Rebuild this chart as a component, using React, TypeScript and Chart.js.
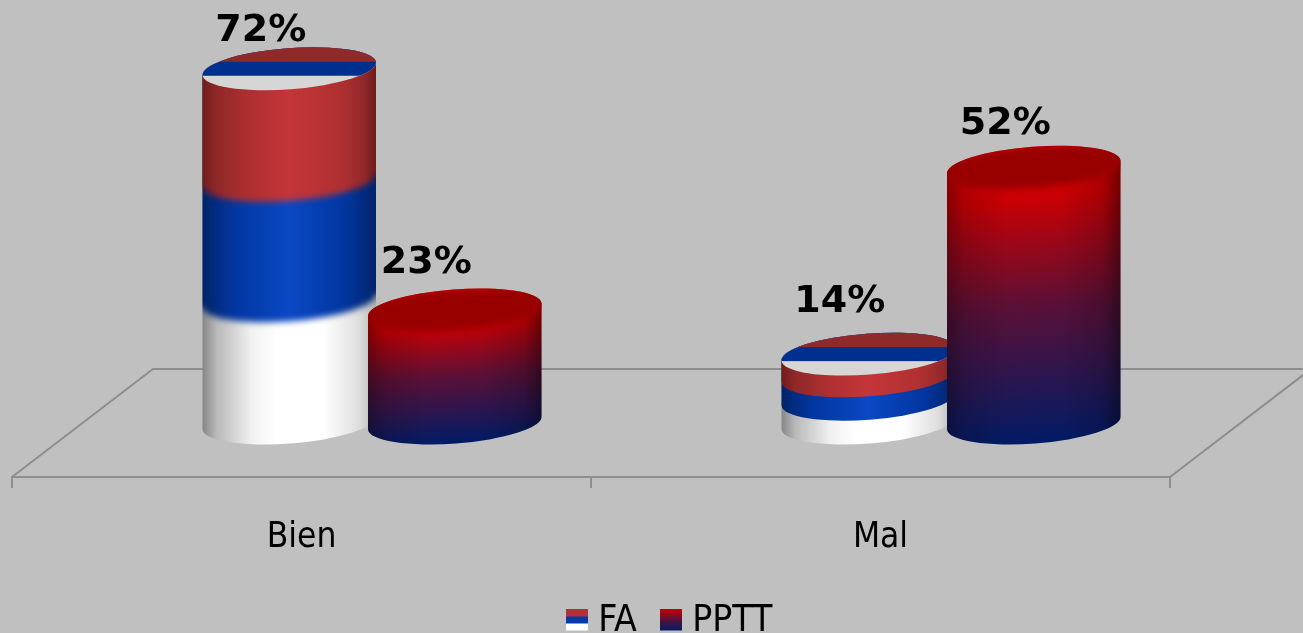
import React, { useEffect, useRef } from "react";
import { Chart, registerables } from "chart.js";

Chart.register(...registerables);

const categories = ["Bien", "Mal"];
const faValues = [72, 14];
const ppttValues = [23, 52];
const seriesNames = ["FA", "PPTT"];

const BG = "#c0c0c0";
const LINE = "#8e8e8e";
const TEXT_FONT = '"DejaVu Sans Condensed", "Noto Sans", sans-serif';
const DEPTH_X = 141;
const DEPTH_Y = 108;
const TILT = (-4.3 * Math.PI) / 180;
const MINOR = 20.5;
const LABEL_LIFT = [[38, 52], [47, 43]];
const LEGEND_SHIFT = 82;

function hGrad(ctx: CanvasRenderingContext2D, l: number, r: number, stops: [number, string][]) {
  const g = ctx.createLinearGradient(l, 0, r, 0);
  stops.forEach(([o, c]) => g.addColorStop(o, c));
  return g;
}

const RED_STOPS: [number, string][] = [[0, "#701c1c"], [0.08, "#8f2828"], [0.25, "#ad2f30"], [0.5, "#c43539"], [0.8, "#b03031"], [0.93, "#93282a"], [1, "#6a1a1a"]];
const BLUE_STOPS: [number, string][] = [[0, "#012468"], [0.18, "#0236a0"], [0.5, "#0a48c4"], [0.82, "#0236a0"], [1, "#012468"]];
const WHITE_STOPS: [number, string][] = [[0, "#858585"], [0.08, "#b8b8b8"], [0.28, "#f0f0f0"], [0.42, "#ffffff"], [0.7, "#ffffff"], [0.9, "#dedede"], [1, "#b4b4b4"]];

function cylinderPath(ctx: CanvasRenderingContext2D, cx: number, top: number, base: number, a: number) {
  const dx = a * Math.cos(TILT);
  const dy = a * Math.sin(TILT);
  ctx.beginPath();
  ctx.ellipse(cx, top, a, MINOR, TILT, Math.PI, 2 * Math.PI);
  ctx.lineTo(cx + dx, base + dy);
  ctx.ellipse(cx, base, a, MINOR, TILT, 0, Math.PI);
  ctx.closePath();
}

function bandPath(ctx: CanvasRenderingContext2D, cx: number, top: number, y: number, a: number) {
  const dx = a * Math.cos(TILT);
  const dy = a * Math.sin(TILT);
  ctx.beginPath();
  ctx.moveTo(cx - dx - 14, top - 40);
  ctx.lineTo(cx + dx + 14, top - 40);
  ctx.lineTo(cx + dx + 14, y + dy);
  ctx.lineTo(cx + dx, y + dy);
  ctx.ellipse(cx, y, a, MINOR, TILT, 0, Math.PI);
  ctx.lineTo(cx - dx - 14, y - dy);
  ctx.closePath();
}

function drawFA(ctx: CanvasRenderingContext2D, cx: number, top: number, base: number, a: number) {
  const l = cx - a;
  const r = cx + a;
  const h = base - top;
  const blur = Math.max(0.6, h * 0.009);
  ctx.save();
  cylinderPath(ctx, cx, top, base, a);
  ctx.clip();
  ctx.fillStyle = hGrad(ctx, l, r, WHITE_STOPS);
  ctx.fillRect(l - 2, top - 40, 2 * a + 4, h + 80);
  ctx.filter = `blur(${blur}px)`;
  bandPath(ctx, cx, top, top + h * 0.655, a);
  ctx.fillStyle = hGrad(ctx, l, r, BLUE_STOPS);
  ctx.fill();
  bandPath(ctx, cx, top, top + h * 0.315, a);
  ctx.fillStyle = hGrad(ctx, l, r, RED_STOPS);
  ctx.fill();
  ctx.restore();
  ctx.save();
  ctx.beginPath();
  ctx.ellipse(cx, top, a, MINOR, TILT, 0, 2 * Math.PI);
  ctx.clip();
  ctx.fillStyle = "#d6d6d6";
  ctx.fillRect(l - 2, top - 30, 2 * a + 4, 60);
  ctx.fillStyle = "#00308f";
  ctx.fillRect(l - 2, top - 30, 2 * a + 4, 37);
  ctx.fillStyle = "#8f2a2a";
  ctx.fillRect(l - 2, top - 30, 2 * a + 4, 23);
  ctx.restore();
}

function drawPPTT(ctx: CanvasRenderingContext2D, cx: number, top: number, base: number, a: number) {
  const l = cx - a;
  const r = cx + a;
  const y1 = base + MINOR;
  const skew = (y1 - top) * Math.sin(-TILT);
  const g = ctx.createLinearGradient(cx - skew * 0.5, top, cx + skew * 0.5, y1);
  g.addColorStop(0, "#d40000");
  g.addColorStop(0.12, "#c80004");
  g.addColorStop(0.5, "#5a1036");
  g.addColorStop(1, "#001b66");
  ctx.save();
  cylinderPath(ctx, cx, top, base, a);
  ctx.clip();
  ctx.fillStyle = g;
  ctx.fillRect(l - 2, top - 40, 2 * a + 4, y1 - top + 80);
  ctx.fillStyle = hGrad(ctx, l, r, [[0, "rgba(0,0,0,0.35)"], [0.1, "rgba(0,0,0,0.14)"], [0.35, "rgba(0,0,0,0)"], [0.65, "rgba(0,0,0,0)"], [0.9, "rgba(0,0,0,0.16)"], [1, "rgba(0,0,0,0.45)"]]);
  ctx.fillRect(l - 2, top - 40, 2 * a + 4, y1 - top + 80);
  ctx.filter = "blur(3px)";
  ctx.fillStyle = "#980000";
  ctx.beginPath();
  ctx.ellipse(cx, top, a + 4, MINOR, TILT, 0, 2 * Math.PI);
  ctx.fill();
  ctx.restore();
}

const cylinderPlugin = {
  id: "cylinders",
  afterLayout(chart: any) {
    chart.legend.left += LEGEND_SHIFT;
    chart.legend.right += LEGEND_SHIFT;
  },
  beforeDatasetsDraw(chart: any) {
    const { ctx } = chart;
    const xs = chart.scales.x;
    const y0 = chart.scales.y.getPixelForValue(0);
    const l = xs.left;
    const r = xs.right;
    ctx.save();
    ctx.strokeStyle = LINE;
    ctx.lineWidth = 2;
    ctx.beginPath();
    ctx.moveTo(l, y0);
    ctx.lineTo(l + DEPTH_X, y0 - DEPTH_Y);
    ctx.lineTo(r + DEPTH_X, y0 - DEPTH_Y);
    ctx.lineTo(r, y0);
    ctx.stroke();
    ctx.restore();
  },
  afterDatasetsDraw(chart: any) {
    const { ctx } = chart;
    const y0 = chart.scales.y.getPixelForValue(0);
    chart.data.datasets.forEach((ds: any, i: number) => {
      chart.getDatasetMeta(i).data.forEach((el: any) => {
        const cx = el.x + DEPTH_X / 2;
        const top = el.y - DEPTH_Y / 2;
        const base = y0 - DEPTH_Y / 2;
        const a = el.width / 2;
        if (i === 0) drawFA(ctx, cx, top, base, a);
        else drawPPTT(ctx, cx, top, base, a);
      });
    });
    ctx.save();
    ctx.fillStyle = "#000";
    ctx.font = 'bold 38px "DejaVu Sans", sans-serif';
    ctx.textAlign = "center";
    ctx.textBaseline = "middle";
    chart.data.datasets.forEach((ds: any, i: number) => {
      chart.getDatasetMeta(i).data.forEach((el: any, j: number) => {
        const v = ds.data[j];
        ctx.fillText(`${v}%`, el.x + DEPTH_X / 2 - 28.5, el.y - DEPTH_Y / 2 - LABEL_LIFT[i][j]);
      });
    });
    ctx.restore();
  },
};

function legendIcon(kind: number) {
  const c = document.createElement("canvas");
  c.width = 22;
  c.height = 26;
  const x = c.getContext("2d")!;
  if (kind === 0) {
    x.fillStyle = "#b03236";
    x.fillRect(0, 0, 22, 8);
    x.fillStyle = "#0a38a8";
    x.fillRect(0, 8, 22, 7);
    x.fillStyle = "#ffffff";
    x.fillRect(0, 15, 22, 7);
  } else {
    const g = x.createLinearGradient(0, 0, 0, 22);
    g.addColorStop(0, "#c80000");
    g.addColorStop(0.5, "#5a1036");
    g.addColorStop(1, "#001b66");
    x.fillStyle = g;
    x.fillRect(0, 0, 22, 22);
  }
  return c;
}

export default function App() {
  const ref = useRef<HTMLCanvasElement>(null);
  useEffect(() => {
    if (!ref.current) return;
    const chart = new Chart(ref.current, {
      type: "bar",
      data: {
        labels: categories,
        datasets: [
          { label: seriesNames[0], data: faValues, backgroundColor: "rgba(0,0,0,0)", categoryPercentage: 0.5717, barPercentage: 1.051 },
          { label: seriesNames[1], data: ppttValues, backgroundColor: "rgba(0,0,0,0)", categoryPercentage: 0.5717, barPercentage: 1.051 },
        ],
      },
      options: {
        responsive: false,
        animation: false,
        layout: { padding: { left: 12, right: 133, top: 83.4, bottom: 0 } },
        plugins: {
          tooltip: { enabled: false },
          legend: {
            position: "bottom",
            labels: {
              boxWidth: 6,
              usePointStyle: true,
              padding: 31,
              color: "#000",
              font: { size: 37, family: TEXT_FONT },
              generateLabels: () =>
                seriesNames.map((n, i) => ({ text: n, pointStyle: legendIcon(i), datasetIndex: i, fontColor: "#000", lineWidth: 0, strokeStyle: "rgba(0,0,0,0)", fillStyle: "rgba(0,0,0,0)" })),
            },
          },
        },
        scales: {
          x: {
            offset: true,
            afterFit: (s: any) => {
              s.height = 95;
            },
            border: { color: LINE, width: 2 },
            grid: { drawOnChartArea: false, drawTicks: true, tickLength: 11, color: LINE, lineWidth: 2, offset: true },
            ticks: { color: "#000", padding: 29, maxRotation: 0, font: { size: 35, family: TEXT_FONT } },
          },
          y: { display: false, min: 0, max: 80, beginAtZero: true },
        },
      },
      plugins: [cylinderPlugin],
    } as any);
    return () => chart.destroy();
  }, []);
  return (
    <div style={{ position: "fixed", left: 0, top: 0, width: 1303, height: 633, overflow: "hidden", background: BG }}>
      <canvas ref={ref} width={1303} height={650} style={{ display: "block" }} />
    </div>
  );
}
